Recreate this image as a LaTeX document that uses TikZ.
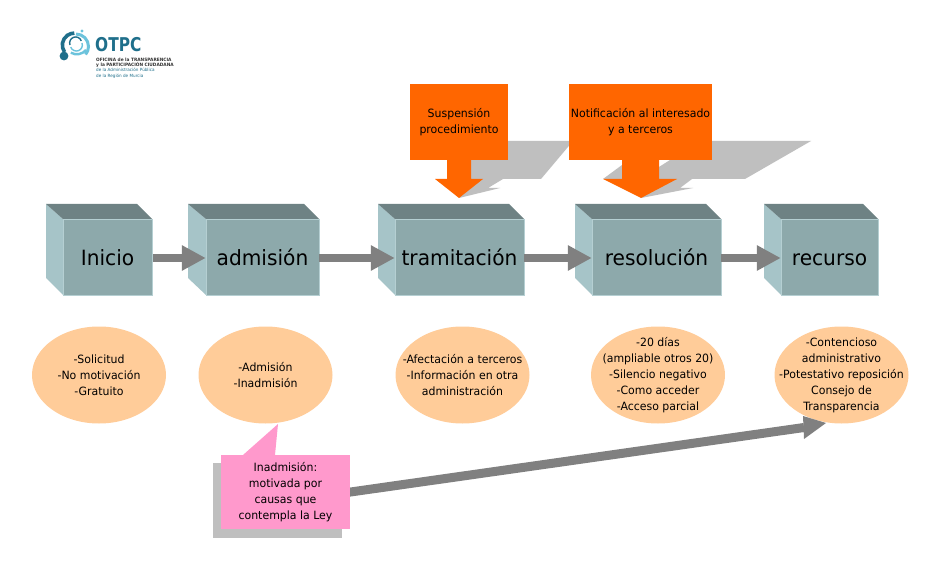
\documentclass[tikz,border=0pt]{standalone}
\usepackage{fontspec}
\setmainfont{DejaVu Sans}[FakeStretch=0.96]
\newfontfamily\logofont{DejaVu Sans}[FakeStretch=0.81]
\usetikzlibrary{arrows.meta,shapes.geometric}
\definecolor{front}{HTML}{8DA9AB}
\definecolor{boxtop}{HTML}{6E8284}
\definecolor{boxside}{HTML}{A6C4C8}
\definecolor{edgec}{HTML}{B5CFD2}
\definecolor{peach}{HTML}{FFCC99}
\definecolor{orangec}{HTML}{FF6600}
\definecolor{pinkc}{HTML}{FF99CC}
\definecolor{shadowc}{HTML}{BFBFBF}
\definecolor{arrowc}{HTML}{808080}
\definecolor{logodark}{HTML}{1F6F8B}
\definecolor{logolight}{HTML}{6CC3DC}
\tikzset{
 x=1pt,y=1pt,
 face/.style={rectangle,fill=front,draw=edgec,line width=.5pt,inner sep=0pt,text height=20pt,text depth=3pt,font=\fontsize{21}{24}\selectfont,minimum height=76pt},
 bub/.style={ellipse,fill=peach,inner sep=0pt,minimum width=134pt,minimum height=97pt},
 bubtext/.style={inner sep=0pt,align=center,font=\fontsize{11.4}{16}\selectfont},
 flow/.style={draw=arrowc,line width=8pt,-{Triangle[length=24pt,width=24pt]}},
 orangebox/.style={rectangle,fill=orangec,inner sep=0pt,align=center,minimum height=76pt,font=\fontsize{11.4}{16}\selectfont},
 logosmall/.style={inner sep=0pt,anchor=west,font=\fontsize{4.5}{5}\selectfont\bfseries,text=black!80},
 logosub/.style={inner sep=0pt,anchor=west,font=\fontsize{4.3}{5}\selectfont,text=logodark}
}
\newcommand{\cube}[6]{% name, left, frontleft, right, text, width
 \fill[boxside] (#2,356) -- (#3,341) -- (#3,265) -- (#2,282) -- cycle;
 \fill[boxtop] (#2,356) -- (#4-15,356) -- (#4,341) -- (#3,341) -- cycle;
 \node[face,minimum width=#6pt] (#1) at ({(#3+#4)/2},303) {#5};
}
\begin{document}
\begin{tikzpicture}
\useasboundingbox (0,0) rectangle (952,560);
\fill[white] (0,0) rectangle (952,560);
% logo
\begin{scope}[shift={(0,560)}]
\draw[logodark,line width=3.6pt] (64.5,-52) arc[start angle=215,end angle=90,radius=12];
\draw[logolight,line width=3pt] (76,-34) arc[start angle=90,end angle=-40,radius=12.5];
\draw[logolight,line width=2.4pt] (86,-50) arc[start angle=-40,end angle=-120,radius=12];
\draw[logodark,line width=1.4pt] (70,-45) arc[start angle=200,end angle=20,radius=6];
\draw[logolight,line width=1.4pt] (82,-43) arc[start angle=20,end angle=-160,radius=6];
\fill[logodark] (64,-56) circle[radius=4.4];
\fill[logolight] (82,-31) circle[radius=1.6];
\node[inner sep=0pt,anchor=west,text=logodark,font=\logofont\fontsize{19}{20}\selectfont\bfseries] (otpc) at (95,-45) {OTPC};
\node[logosmall] (l1) at (96,-59.5) {OFICINA de la TRANSPARENCIA};
\node[logosmall] (l2) at (96,-64.5) {y la PARTICIPACIÓN CIUDADANA};
\node[logosub] (l3) at (96,-70) {de la Administración Pública};
\node[logosub] (l4) at (96,-76) {de la Región de Murcia};
\end{scope}
% shadows
\fill[shadowc] (459,362) -- (500,372) -- (488,372) -- (503,381) -- (541,381) -- (573,419) -- (470,419) -- (470,381) -- cycle;
\fill[shadowc] (641,362) -- (693,372) -- (680,372) -- (692,381) -- (745,381) -- (811,419) -- (700,419) -- (640,381) -- cycle;
\fill[shadowc] (603,381) -- (622,395) -- (622,381) -- cycle;
% callouts
\node[orangebox,minimum width=98pt] (susp) at (459,438) {Suspensión\\procedimiento};
\node[orangebox,minimum width=143pt] (noti) at (640.5,438) {Notificación al interesado\\y a terceros};
\coordinate (tipa) at (459,362);
\coordinate (tipb) at (641,362);
\fill[orangec] (447,400) -- (447,381) -- (435,381) -- (tipa) -- (483,381) -- (471,381) -- (471,400) -- cycle;
\fill[orangec] (622,400) -- (622,381) -- (603,381) -- (tipb) -- (677,381) -- (659,381) -- (659,400) -- cycle;
% cubes
\cube{ini}{46}{63}{152}{Inicio}{89}
\cube{adm}{188}{206}{319}{admisión}{113}
\cube{tra}{378}{395}{524}{tramitación}{129}
\cube{res}{575}{592}{721}{resolución}{129}
\cube{rec}{764}{781}{878}{recurso}{97}
% flow arrows
\draw[flow] ([shift={(1pt,-1pt)}]ini.east) -- ([yshift=-1pt]adm.west);
\draw[flow] ([yshift=-1pt]adm.east) -- ([yshift=-1pt]tra.west);
\draw[flow] ([yshift=-1pt]tra.east) -- ([yshift=-1pt]res.west);
\draw[flow] ([yshift=-1pt]res.east) -- ([yshift=-1pt]rec.west);
% ellipses
\node[bub] (e1) at (99,185) {};
\node[bubtext] (t1) at (e1) {-Solicitud\\-No motivación\\-Gratuito};
\node[bub] (e2) at (265.5,185) {};
\node[bubtext] (t2) at (e2) {-Admisión\\-Inadmisión};
\node[bub] (e3) at (462.5,185) {};
\node[bubtext] (t3) at (e3) {-Afectación a terceros\\-Información en otra\\administración};
\node[bub] (e4) at (658,185) {};
\node[bubtext] (t4) at (e4) {-20 días\\(ampliable otros 20)\\-Silencio negativo\\-Como acceder\\-Acceso parcial};
\node[bub] (e5) at (841.5,185) {};
\node[bubtext] (t5) at (e5) {-Contencioso\\administrativo\\-Potestativo reposición\\Consejo de\\Transparencia};
% pink note
\fill[shadowc] (213,22) rectangle (342,97);
\coordinate (tail) at (340,66.5);
\coordinate (headbase) at (804,132.5);
\draw[draw=arrowc,line width=9pt] (tail) -- (headbase);
\fill[arrowc] (803,144) -- (826,137) -- (804,121) -- cycle;
\node[rectangle,fill=pinkc,inner sep=0pt,minimum width=129pt,minimum height=74pt,align=center,font=\fontsize{11.4}{16}\selectfont] (note) at (285.5,68) {Inadmisión:\\motivada por\\causas que\\contempla la Ley};
\fill[pinkc] (243,105) -- (278,136) -- (275,105) -- cycle;
\end{tikzpicture}
\end{document}
